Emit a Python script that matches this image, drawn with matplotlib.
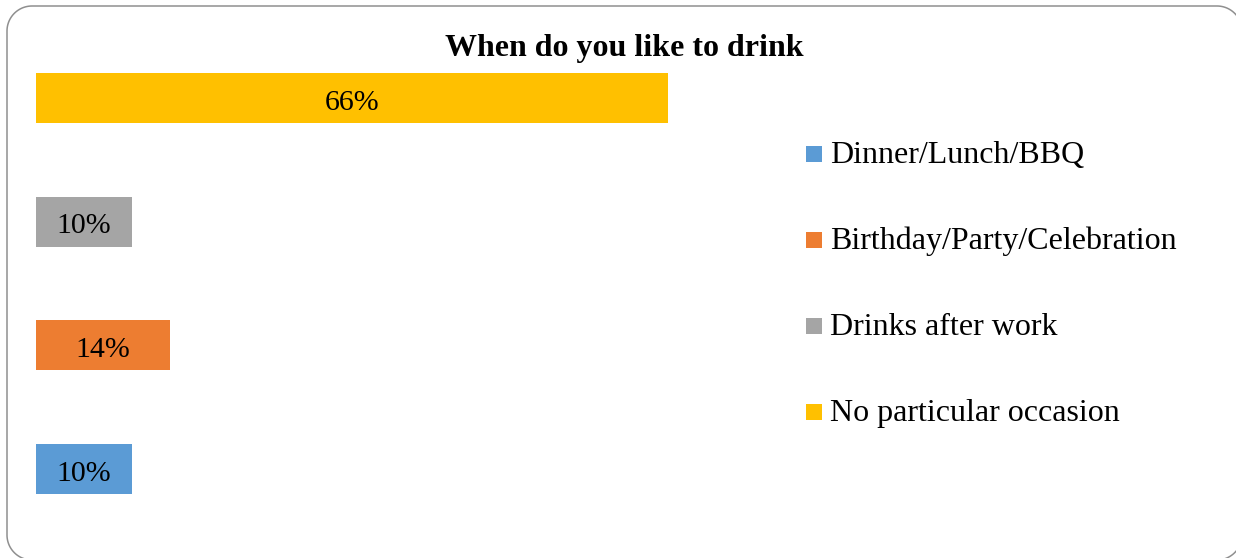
import numpy as np
import matplotlib.pyplot as plt
from matplotlib.patches import Rectangle

plt.rcParams["font.family"] = ["Liberation Serif", "DejaVu Serif"]

CATEGORIES = ["Dinner/Lunch/BBQ", "Birthday/Party/Celebration", "Drinks after work", "No particular occasion"]
VALUES = [10, 14, 10, 66]
COLORS = ["#5B9BD5", "#ED7D31", "#A5A5A5", "#FFC000"]
TITLE = "When do you like to drink"

W, H = 1236, 558
fig = plt.figure(figsize=(W / 100, H / 100), dpi=100)


def rounded_frame(x0, y0, x1, y1, r, n=30):
    # polyline of a rounded rectangle in pixel coordinates
    pts = []
    corners = [(x1 - r, y1 - r, 0), (x0 + r, y1 - r, 90), (x0 + r, y0 + r, 180), (x1 - r, y0 + r, 270)]
    for cx, cy, start in corners:
        t = np.radians(np.linspace(start, start + 90, n))
        pts.append(np.column_stack([cx + r * np.cos(t), cy + r * np.sin(t)]))
    pts = np.vstack(pts + [pts[0][:1]])
    return pts[:, 0], pts[:, 1]


# chart-area border, partly running off the right and bottom edges
bx, by = rounded_frame(7, -2, 1242, 552, 25)
fig.add_artist(plt.Line2D(bx / W, by / H, transform=fig.transFigure, color="#8f8f8f", linewidth=1.1))

ax = fig.add_axes([36 / W, 1 - 530.85 / H, 670.6 / W, 494.7 / H])
positions = list(range(len(VALUES)))
bars = ax.barh(positions, VALUES, height=0.404, color=COLORS)
ax.set_xlim(0, 70)
ax.set_ylim(-0.5, 3.5)
ax.axis("off")

for bar, value in zip(bars, VALUES):
    ax.annotate(f"{value}%", (bar.get_width() / 2, bar.get_y() + bar.get_height() / 2),
                xytext=(0, -8.3), textcoords="offset points",
                ha="center", va="baseline", fontsize=21.5)

fig.text(624 / W, 1 - 56 / H, TITLE, ha="center", va="baseline", fontsize=23, fontweight="bold")

# legend: coloured squares with labels
legend_baselines = [163, 249, 335, 421]
for base, label, color in zip(legend_baselines, CATEGORIES, COLORS):
    fig.patches.append(Rectangle((806 / W, (H - base + 1) / H), 16 / W, 16 / H,
                                 transform=fig.transFigure, facecolor=color, edgecolor="none"))
    fig.text(830 / W, 1 - base / H, label, ha="left", va="baseline", fontsize=23)

fig.savefig("out.png", dpi=100)
